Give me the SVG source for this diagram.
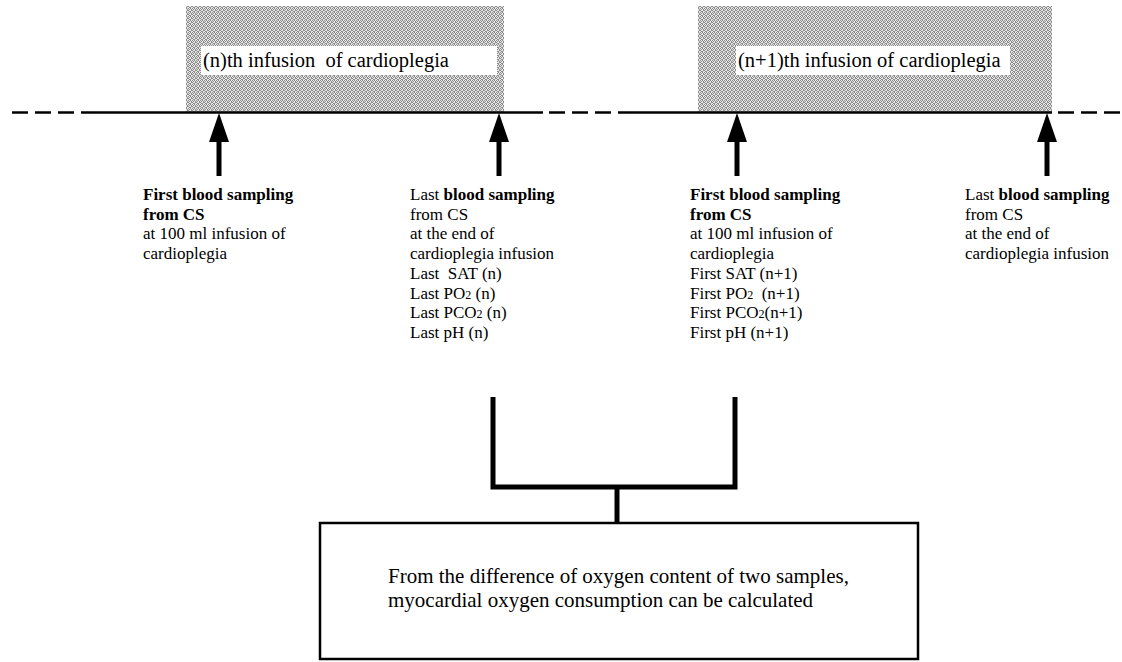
<svg xmlns="http://www.w3.org/2000/svg" width="1122" height="662" viewBox="0 0 1122 662">
  <defs>
    <pattern id="dither" width="4" height="4" patternUnits="userSpaceOnUse">
      <rect width="4" height="4" fill="#e4e4e4"/>
      <path d="M0,0h1v1h-1z M2,0h1v1h-1z M1,1h1v1h-1z M3,1h1v1h-1z M0,2h1v1h-1z M3,2h1v1h-1z M1,3h1v1h-1z M2,3h1v1h-1z" fill="#8e8e8e"/>
    </pattern>
    <marker id="ah" viewBox="0 0 29 20" markerUnits="userSpaceOnUse" markerWidth="29" markerHeight="20" refX="17" refY="10" orient="auto">
      <path d="M0,0 L29,10 L0,20 Z" fill="#000"/>
    </marker>
  </defs>
  <style>
    text { font-family: "Liberation Serif", "Times New Roman", serif; fill: #000; }
    .body { font-size: 17px; }
    .b { font-weight: bold; }
    .lab { font-size: 20.5px; }
    .big { font-size: 21px; }
    .sub { font-size: 12px; }
    .gray { fill: url(#dither); }
    .white { fill: #fff; }
    .solid { stroke: #000; stroke-width: 2.5; fill: none; }
    .dash { stroke: #000; stroke-width: 2.5; fill: none; stroke-dasharray: 16 7; }
    .arrow { stroke: #000; stroke-width: 5; fill: none; marker-end: url(#ah); }
    .bracket { stroke: #000; stroke-width: 5; fill: none; stroke-linejoin: miter; }
    .box { stroke: #000; stroke-width: 2.5; fill: #fff; }
  </style>
  <rect width="1122" height="662" fill="#fff"/>

  <g id="infusion-n">
    <rect class="gray" x="186" y="6" width="318" height="106"/>
    <rect class="white" x="201" y="46" width="296" height="29"/>
    <text class="lab" x="203" y="67" xml:space="preserve">(n)th infusion  of cardioplegia</text>
  </g>
  <g id="infusion-n1">
    <rect class="gray" x="698" y="6" width="354" height="106"/>
    <rect class="white" x="736" y="46" width="274" height="29"/>
    <text class="lab" x="738" y="67">(n+1)th infusion of cardioplegia</text>
  </g>

  <g id="timeline">
    <line class="dash" x1="12" y1="112.5" x2="97" y2="112.5"/>
    <line class="solid" x1="97" y1="112.5" x2="543" y2="112.5"/>
    <line class="dash" x1="549" y1="112.5" x2="633" y2="112.5"/>
    <line class="solid" x1="633" y1="112.5" x2="1052" y2="112.5"/>
    <line class="dash" x1="1058" y1="112.5" x2="1122" y2="112.5"/>
  </g>

  <g id="connectors">
    <line class="arrow" x1="219" y1="176" x2="219" y2="125"/>
    <line class="arrow" x1="499" y1="176" x2="499" y2="125"/>
    <line class="arrow" x1="737" y1="176" x2="737" y2="125"/>
    <line class="arrow" x1="1047" y1="176" x2="1047" y2="125"/>
    <polyline class="bracket" points="493,397 493,487 735,487 735,397"/>
    <line class="bracket" x1="617" y1="487" x2="617" y2="523"/>
  </g>

  <g id="sample-first-n">
    <text x="143" y="200" class="body b">First blood sampling</text>
    <text x="143" y="219.7" class="body b">from CS</text>
    <text x="143" y="239.4" class="body">at 100 ml infusion of</text>
    <text x="143" y="259.1" class="body">cardioplegia</text>
  </g>

  <g id="sample-last-n">
    <text x="410" y="200" class="body">Last <tspan class="b">blood sampling</tspan></text>
    <text x="410" y="219.7" class="body">from CS</text>
    <text x="410" y="239.4" class="body">at the end of</text>
    <text x="410" y="259.1" class="body">cardioplegia infusion</text>
    <text x="410" y="278.8" class="body" xml:space="preserve">Last  SAT (n)</text>
    <text x="410" y="298.5" class="body">Last PO<tspan class="sub">2</tspan> (n)</text>
    <text x="410" y="318.2" class="body">Last PCO<tspan class="sub">2</tspan> (n)</text>
    <text x="410" y="337.9" class="body">Last pH (n)</text>
  </g>

  <g id="sample-first-n1">
    <text x="690" y="200" class="body b">First blood sampling</text>
    <text x="690" y="219.7" class="body b">from CS</text>
    <text x="690" y="239.4" class="body">at 100 ml infusion of</text>
    <text x="690" y="259.1" class="body">cardioplegia</text>
    <text x="690" y="278.8" class="body">First SAT (n+1)</text>
    <text x="690" y="298.5" class="body" xml:space="preserve">First PO<tspan class="sub">2</tspan>  (n+1)</text>
    <text x="690" y="318.2" class="body">First PCO<tspan class="sub">2</tspan>(n+1)</text>
    <text x="690" y="337.9" class="body">First pH (n+1)</text>
  </g>

  <g id="sample-last-n1">
    <text x="965" y="200" class="body">Last <tspan class="b">blood sampling</tspan></text>
    <text x="965" y="219.7" class="body">from CS</text>
    <text x="965" y="239.4" class="body">at the end of</text>
    <text x="965" y="259.1" class="body">cardioplegia infusion</text>
  </g>

  <g id="result">
    <rect class="box" x="320" y="523" width="598" height="136"/>
    <text class="big" x="388" y="583">From the difference of oxygen content of two samples,</text>
    <text class="big" x="388" y="607">myocardial oxygen consumption can be calculated</text>
  </g>
</svg>
